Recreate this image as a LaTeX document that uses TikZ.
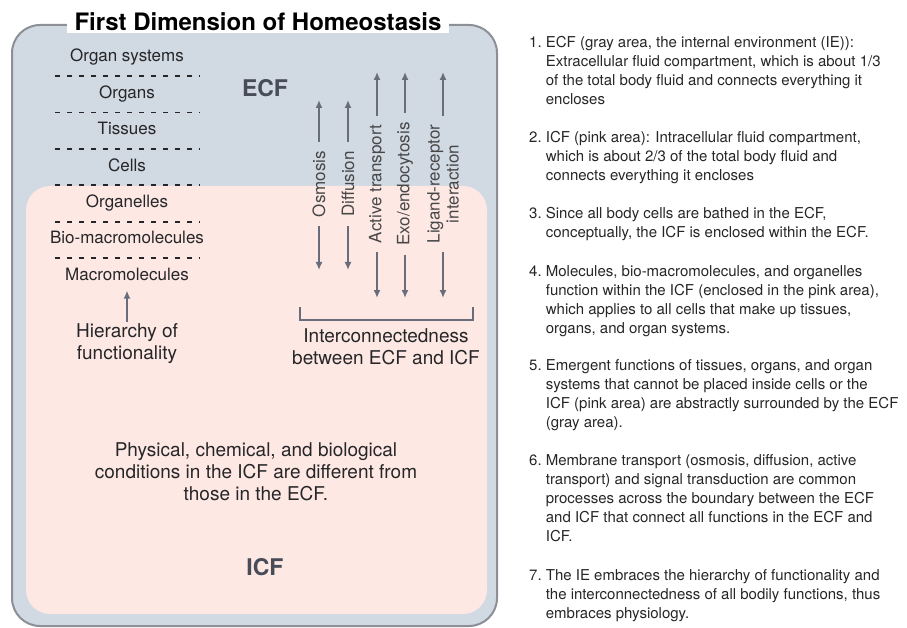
\documentclass[tikz,border=0pt]{standalone}
\usepackage{fontspec}
\setmainfont{TeX Gyre Heros}
\usetikzlibrary{arrows.meta,positioning,calc}
\definecolor{ecfgray}{RGB}{209,217,227}
\definecolor{icfpink}{RGB}{253,232,228}
\definecolor{rim}{RGB}{140,143,150}
\definecolor{arrowgray}{RGB}{105,108,122}
\definecolor{ink}{RGB}{38,38,40}
\definecolor{labelgray}{RGB}{72,75,88}

\begin{document}
\begin{tikzpicture}
[x=1pt,y=-1pt,
node distance=20pt,
>={Latex[length=8pt,width=7pt]},
level/.style={font=\fontsize{17}{20}\selectfont,text=ink,inner sep=0pt,text height=12pt,text depth=4pt},
divider/.style={dash pattern=on 5pt off 7pt,line width=1.8pt,ink},
process/.style={rotate=90,font=\fontsize{17}{19}\selectfont,text=ink!85,inner sep=0pt,align=center},
post/.style={->,line width=1.6pt,arrowgray,shorten <=9pt},
caption/.style={font=\fontsize{19}{22}\selectfont,text=ink,align=center,inner sep=0pt},
region/.style={font=\bfseries\fontsize{23}{26}\selectfont,text=labelgray},
item/.style={anchor=north west,font=\fontsize{15}{19}\selectfont,text=ink,align=left,inner sep=0pt}]
\useasboundingbox (0,0) rectangle (907,628);

% compartments
\draw[fill=ecfgray,draw=rim,line width=2pt,rounded corners=28pt] (12,25) rectangle (497,626);
\fill[icfpink,rounded corners=24pt] (26,186) rectangle (487,614);
\node[fill=white,inner xsep=8pt,inner ysep=2pt,font=\bfseries\fontsize{24}{26}\selectfont,text=black] (title) at (258,22) {First Dimension of Homeostasis};

\node[region] (ecf) at (265,88) {ECF};
\node[region] (icf) at (265,567) {ICF};

% hierarchy of functionality
\node[level] (orgsys) at (127,58) {Organ systems};
\node[level] (organs) [below=of orgsys] {Organs};
\node[level] (tissues) [below=of organs] {Tissues};
\node[level] (cells) [below=of tissues] {Cells};
\node[level] (organelles) [below=of cells] {Organelles};
\node[level] (biomacro) [below=of organelles] {Bio-macromolecules};
\node[level] (macro) [below=of biomacro] {Macromolecules};
\foreach \a/\b in {orgsys/organs,organs/tissues,tissues/cells,cells/organelles,organelles/biomacro,biomacro/macro}
  \draw[divider] ($($(\a)!.5!(\b)$)+(-72,0)$) -- ($($(\a)!.5!(\b)$)+(73,0)$);
\node[caption] (hier) at (127,344) {Hierarchy of\\functionality};
\draw[post,shorten <=2pt,shorten >=6pt] (hier) -- (macro);

% interconnectedness
\node[process] (osm) at (319,184) {Osmosis};
\node[process] (diff) at (348,184) {Diffusion};
\node[process] (active) at (377,184) {Active transport};
\node[process] (exo) at (405,184) {Exo/endocytosis};
\node[process] (lig) at (443,184) {Ligand-receptor\\interaction};
\coordinate (osmUp) at (319,100);
\coordinate (osmDn) at (319,270);
\coordinate (diffUp) at (348,100);
\coordinate (diffDn) at (348,270);
\coordinate (activeUp) at (377,72);
\coordinate (activeDn) at (377,298);
\coordinate (exoUp) at (405,72);
\coordinate (exoDn) at (405,298);
\coordinate (ligUp) at (443,72);
\coordinate (ligDn) at (443,298);
\draw[post] (osm.east) -- (osmUp);
\draw[post] (osm.west) -- (osmDn);
\draw[post] (diff.east) -- (diffUp);
\draw[post] (diff.west) -- (diffDn);
\draw[post] (active.east) -- (activeUp);
\draw[post] (active.west) -- (activeDn);
\draw[post] (exo.east) -- (exoUp);
\draw[post] (exo.west) -- (exoDn);
\draw[post] (lig.east) -- (ligUp);
\draw[post] (lig.west) -- (ligDn);
\coordinate (brL) at (300,320);
\coordinate (brR) at (473,320);
\draw[arrowgray,line width=1.6pt] ([yshift=13pt]brL) -- (brL) -- (brR) -- ([yshift=13pt]brR);
\node[caption] (inter) at (386,347) {Interconnectedness\\between ECF and ICF};

\node[caption] (cond) at (256,472) {Physical, chemical, and biological\\conditions in the ICF are different from\\those in the ECF.};

% notes
\node[item] (n1) at (529,36) {1.\ ECF (gray area, the internal environment (IE)):\\\hphantom{1.\ }Extracellular fluid compartment, which is about 1/3\\\hphantom{1.\ }of the total body fluid and connects everything it\\\hphantom{1.\ }encloses};
\node[item] (n2) at (529,131) {2.\ ICF (pink area): Intracellular fluid compartment,\\\hphantom{2.\ }which is about 2/3 of the total body fluid and\\\hphantom{2.\ }connects everything it encloses};
\node[item] (n3) at (529,207) {3.\ Since all body cells are bathed in the ECF,\\\hphantom{3.\ }conceptually, the ICF is enclosed within the ECF.};
\node[item] (n4) at (529,265) {4.\ Molecules, bio-macromolecules, and organelles\\\hphantom{4.\ }function within the ICF (enclosed in the pink area),\\\hphantom{4.\ }which applies to all cells that make up tissues,\\\hphantom{4.\ }organs, and organ systems.};
\node[item] (n5) at (529,359) {5.\ Emergent functions of tissues, organs, and organ\\\hphantom{5.\ }systems that cannot be placed inside cells or the\\\hphantom{5.\ }ICF (pink area) are abstractly surrounded by the ECF\\\hphantom{5.\ }(gray area).};
\node[item] (n6) at (529,454) {6.\ Membrane transport (osmosis, diffusion, active\\\hphantom{6.\ }transport) and signal transduction are common\\\hphantom{6.\ }processes across the boundary between the ECF\\\hphantom{6.\ }and ICF that connect all functions in the ECF and\\\hphantom{6.\ }ICF.};
\node[item] (n7) at (529,569) {7.\ The IE embraces the hierarchy of functionality and\\\hphantom{7.\ }the interconnectedness of all bodily functions, thus\\\hphantom{7.\ }embraces physiology.};
\end{tikzpicture}
\end{document}
